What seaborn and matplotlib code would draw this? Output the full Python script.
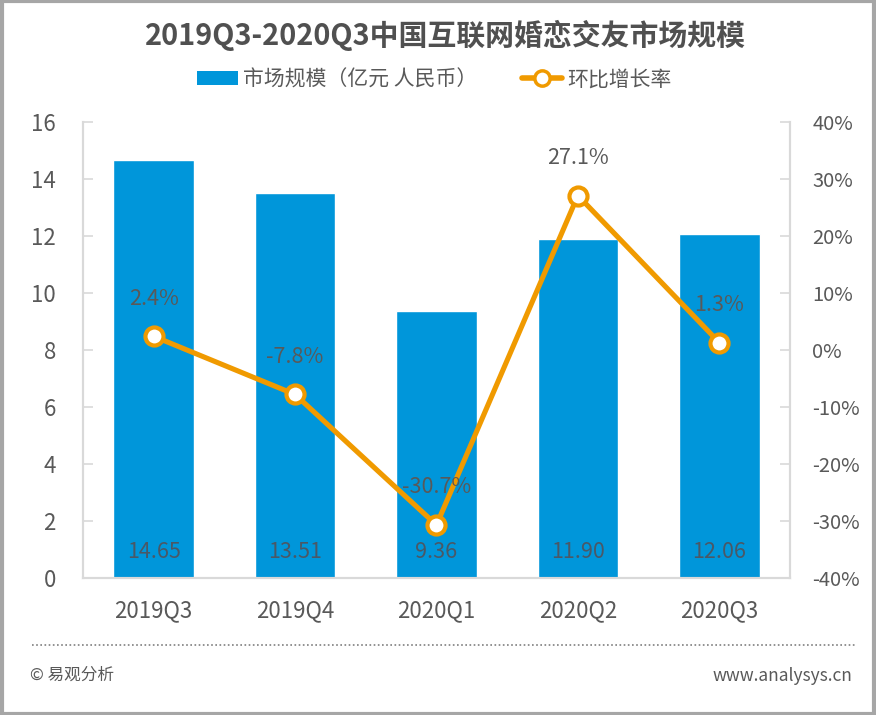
import numpy as np
import matplotlib
matplotlib.use("Agg")
import matplotlib.pyplot as plt
import seaborn as sns
from matplotlib.patches import Patch, Rectangle
from matplotlib.lines import Line2D
from matplotlib.ticker import FuncFormatter

# --- DATA ---
quarters = ["2019Q3", "2019Q4", "2020Q1", "2020Q2", "2020Q3"]
market_size = [14.65, 13.51, 9.36, 11.90, 12.06]   # 亿元
growth_rate = [2.4, -7.8, -30.7, 27.1, 1.3]        # %

title = "2019Q3-2020Q3中国互联网婚恋交友市场规模"
bar_label = "市场规模（亿元 人民币）"
line_label = "环比增长率"

# --- STYLE ---
sns.set_theme(style="white")
plt.rcParams['font.family'] = ['Noto Sans CJK SC', 'DejaVu Sans']

BLUE = "#0096DA"
ORANGE = "#F09A00"
TEXT = "#595959"
SPINE = "#D9D9D9"

fig = plt.figure(figsize=(8.76, 7.15), dpi=100)
ax = fig.add_axes([0.0947, 0.1916, 0.8071, 0.6378])

sns.barplot(x=quarters, y=market_size, color=BLUE, width=0.57,
            saturation=1, ax=ax)
ax.set_xlim(-0.5, 4.5)
ax.set_ylim(0, 16)
ax.set_yticks(range(0, 17, 2))
ax.set_xlabel("")
ax.set_ylabel("")

for i, v in enumerate(market_size):
    ax.text(i, 0.9, f"{v:.2f}", ha="center", va="center",
            fontsize=15.5, color="#4A5866")

# --- LINE ON SECONDARY AXIS ---
ax2 = ax.twinx()
x_pos = np.arange(len(quarters))
sns.lineplot(x=x_pos, y=growth_rate, ax=ax2, color=ORANGE, linewidth=3.7,
             marker="o", markersize=13, markerfacecolor="white",
             markeredgecolor=ORANGE, markeredgewidth=3)
ax2.set_ylim(-40, 40)
ax2.set_yticks(range(-40, 41, 10))
ax2.yaxis.set_major_formatter(FuncFormatter(lambda v, p: f"{v:.0f}%"))
ax2.set_xlim(-0.5, 4.5)

for i, g in enumerate(growth_rate):
    ax2.annotate(f"{g:.1f}%", (i, g), xytext=(0, 27), textcoords="offset points",
                 ha="center", va="center", fontsize=15.5, color=TEXT)

# --- AXES STYLING ---
for a in (ax, ax2):
    a.spines["top"].set_visible(False)
    for side in ("left", "right", "bottom"):
        a.spines[side].set_color(SPINE)
        a.spines[side].set_linewidth(1.5)
    a.tick_params(axis="y", direction="in", length=7, width=1.2, color=SPINE,
                  labelcolor=TEXT)
ax.tick_params(axis="y", labelsize=16, pad=19.5)
ax.tick_params(axis="x", length=0, labelsize=16, labelcolor=TEXT, pad=15)
ax2.tick_params(axis="y", labelsize=14.5, pad=16)

# --- TITLE & LEGEND ---
fig.text(0.508, 0.951, title, ha="center", va="center", fontsize=20.8,
         fontweight="bold", color="#505050")

handles = [
    Patch(facecolor=BLUE, edgecolor="none", label=bar_label),
    Line2D([0], [0], color=ORANGE, linewidth=4, marker="o", markersize=11,
           markerfacecolor="white", markeredgecolor=ORANGE,
           markeredgewidth=2.5, label=line_label),
]
fig.legend(handles=handles, loc="center", bbox_to_anchor=(0.496, 0.889),
           ncol=2, frameon=False, fontsize=15, labelcolor=TEXT,
           handlelength=1.95, handleheight=0.63, columnspacing=2.15,
           handletextpad=0.25)

# --- FOOTER ---
fig.add_artist(Line2D([0.036, 0.976], [0.098, 0.098], transform=fig.transFigure,
                      color="#7F7F7F", linewidth=1.2, linestyle=(0, (1, 1.5))))
fig.text(0.034, 0.055, "© 易观分析", ha="left", va="center", fontsize=12,
         color=TEXT)
fig.text(0.973, 0.055, "www.analysys.cn", ha="right", va="center",
         fontsize=12.5, color=TEXT)

# frame around the whole picture
fig.add_artist(Rectangle((0.002, 0.002), 0.996, 0.996, transform=fig.transFigure,
                         fill=False, edgecolor="#A6A6A6", linewidth=3))

fig.savefig("out.png", dpi=100)
